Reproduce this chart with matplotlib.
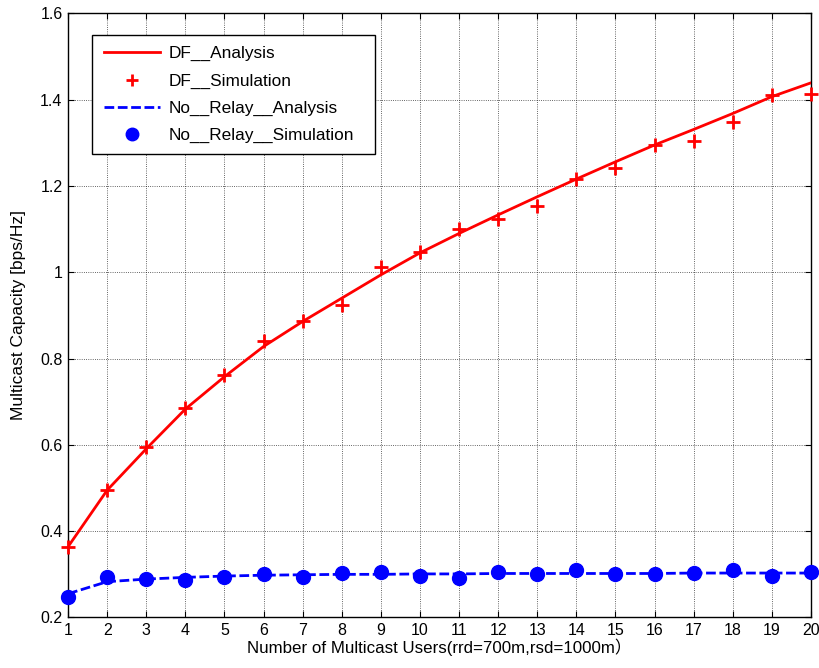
import matplotlib
matplotlib.use("Agg")
import matplotlib.pyplot as plt
import numpy as np

plt.rcParams['font.family'] = ['Liberation Sans', 'Noto Sans CJK SC', 'DejaVu Sans']

users = list(range(1, 21))
df_analysis = [0.364, 0.495, 0.591, 0.683, 0.758, 0.828, 0.886, 0.940, 0.994, 1.045,
               1.090, 1.133, 1.175, 1.216, 1.256, 1.295, 1.331, 1.368, 1.407, 1.439]
df_simulation = [0.364, 0.495, 0.594, 0.685, 0.762, 0.841, 0.886, 0.924, 1.012, 1.048,
                 1.100, 1.123, 1.154, 1.216, 1.241, 1.295, 1.304, 1.349, 1.411, 1.413]
nr_analysis = [0.255, 0.283, 0.289, 0.293, 0.296, 0.298, 0.299, 0.300, 0.300, 0.301,
               0.301, 0.302, 0.302, 0.302, 0.302, 0.302, 0.303, 0.303, 0.303, 0.303]
nr_simulation = [0.248, 0.295, 0.289, 0.287, 0.295, 0.301, 0.295, 0.304, 0.306, 0.297,
                 0.291, 0.305, 0.300, 0.310, 0.300, 0.300, 0.304, 0.310, 0.296, 0.305]
yticks = [0.2, 0.4, 0.6, 0.8, 1.0, 1.2, 1.4, 1.6]
ytick_labels = ['0.2', '0.4', '0.6', '0.8', '1', '1.2', '1.4', '1.6']

fig = plt.figure(figsize=(8.2, 6.68), dpi=100)
ax = fig.add_axes([0.083, 0.0756, 0.906, 0.9044])

ax.plot(users, df_analysis, color='red', lw=2.0, label='DF__Analysis', zorder=3)
ax.plot(users, df_simulation, ls='none', marker='+', color='red', ms=10, mew=2.0,
        label='DF__Simulation', clip_on=False, zorder=4)
ax.plot(users, nr_analysis, color='blue', lw=2.0, ls=(0, (3.5, 1.3)),
        label='No__Relay__Analysis', zorder=3)
ax.plot(users, nr_simulation, ls='none', marker='o', color='blue', ms=10,
        label='No__Relay__Simulation', clip_on=False, zorder=4)

ax.set_xlim(1, 20)
ax.set_ylim(0.2, 1.6)
ax.set_xticks(users)
ax.set_yticks(yticks)
ax.set_yticklabels(ytick_labels)
ax.grid(True, color='black', ls=':', lw=0.6, alpha=0.8)
ax.tick_params(direction='in', top=True, right=True, labelsize=11.5, length=4, pad=4)
for s in ax.spines.values():
    s.set_linewidth(1.0)

ax.set_xlabel('Number of Multicast Users(rrd=700m,rsd=1000m）', fontsize=12.2, labelpad=0)
ax.set_ylabel('Multicast Capacity [bps/Hz]', fontsize=12.5, labelpad=10)

leg = ax.legend(loc='upper left', bbox_to_anchor=(0.0327, 0.769, 0.380, 0.195),
                mode='expand', fontsize=12.4,
                frameon=True, fancybox=False, edgecolor='black', framealpha=1,
                borderpad=0.65, labelspacing=0.7, handlelength=3.3, handletextpad=0.45,
                borderaxespad=0, markerscale=0.9)
leg.get_frame().set_linewidth(1.0)

fig.savefig('out.png', dpi=100)
